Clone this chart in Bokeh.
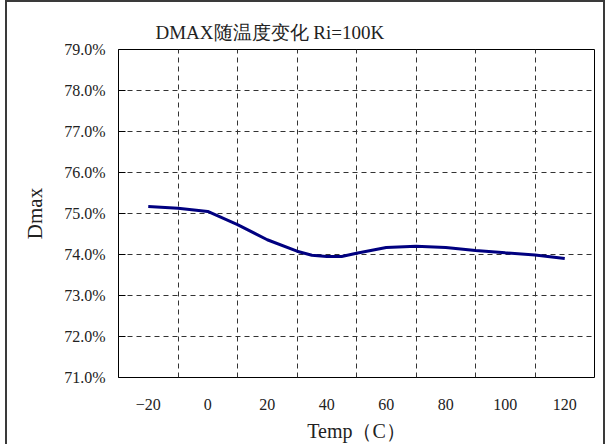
from bokeh.plotting import figure
from bokeh.models import FixedTicker, PrintfTickFormatter, Range1d
from bokeh.embed import file_html
from bokeh.resources import INLINE

temps = [-20, -10, 0, 10, 20, 30, 35, 40, 45, 50, 60, 70, 80, 90, 100, 110, 120]
dmax = [75.17, 75.13, 75.05, 74.73, 74.36, 74.08, 73.98, 73.95, 73.95, 74.03, 74.17, 74.20, 74.17, 74.10, 74.04, 73.99, 73.90]

x_tick_vals = [-20, 0, 20, 40, 60, 80, 100, 120]
x_grid_vals = [-10, 10, 30, 50, 70, 90, 110]
y_tick_vals = [71, 72, 73, 74, 75, 76, 77, 78, 79]
y_grid_vals = [72, 73, 74, 75, 76, 77, 78]

title_text = "DMAX随温度变化 Ri=100K"
x_label = "Temp（C）"
y_label = "Dmax"

FONT = "Liberation Serif"

p = figure(width=600, height=444, output_backend="svg", toolbar_location=None,
           x_range=Range1d(-30, 130), y_range=Range1d(71, 79),
           min_border_left=111, min_border_right=13, min_border_top=47, min_border_bottom=69)
p.margin = (0, 0, 0, 5)
p.styles = {"border-left": "2px solid #3a3a3a", "border-top": "2px solid #3a3a3a",
            "border-right": "2px solid #3a3a3a", "box-sizing": "border-box"}

p.title.text = title_text
p.title.text_font = FONT
p.title.text_font_size = "19px"
p.title.text_font_style = "normal"
p.title.text_color = "#222222"
p.title.align = "left"
p.title.offset = 37
p.title.standoff = 14

p.line(temps, dmax, line_color="#000080", line_width=3)

p.outline_line_color = "black"
p.outline_line_width = 1
p.outline_line_alpha = 1

for ax in (p.xaxis[0], p.yaxis[0]):
    ax.axis_line_color = None
    ax.minor_tick_line_color = None
    ax.major_tick_out = 0
    ax.major_label_text_font = FONT
    ax.major_label_text_font_size = "16px"
    ax.major_label_text_color = "#222222"
    ax.axis_label_text_font = FONT
    ax.axis_label_text_font_style = "normal"
    ax.axis_label_text_color = "#222222"

p.xaxis.ticker = FixedTicker(ticks=x_tick_vals)
p.xaxis.major_tick_in = 0
p.xaxis.major_label_standoff = 21
p.xaxis.axis_label = x_label
p.xaxis.axis_label_text_font_size = "20px"
p.xaxis.axis_label_standoff = 7

p.yaxis.ticker = FixedTicker(ticks=y_tick_vals)
p.yaxis.formatter = PrintfTickFormatter(format="%.1f%%")
p.yaxis.major_tick_in = 7
p.yaxis.major_tick_line_color = "black"
p.yaxis.major_label_standoff = 13
p.yaxis.axis_label = y_label
p.yaxis.axis_label_text_font_size = "21px"
p.yaxis.axis_label_standoff = 14

p.xgrid.ticker = FixedTicker(ticks=x_grid_vals)
p.ygrid.ticker = FixedTicker(ticks=y_grid_vals)
for g in (p.xgrid[0], p.ygrid[0]):
    g.grid_line_color = "#333333"
    g.grid_line_dash = "5 4"
    g.grid_line_width = 1

open("out.html", "w").write(file_html(p, INLINE))
